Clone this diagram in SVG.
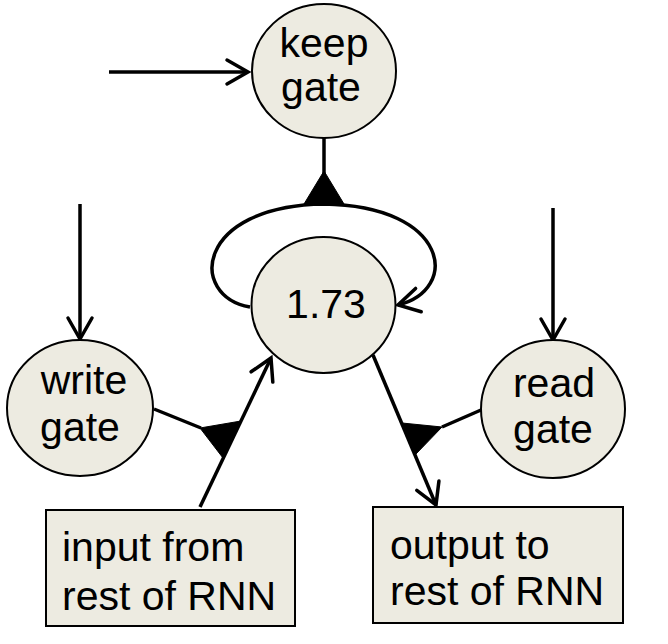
<svg xmlns="http://www.w3.org/2000/svg" width="668" height="644" viewBox="0 0 668 644">
<style>
.node{fill:#edebe1;stroke:#000;stroke-width:2}
.t{font-family:"Liberation Sans",Arial,sans-serif;font-size:41px;fill:#000}
.c{text-anchor:middle}
.ln{fill:none;stroke:#000;stroke-width:3.5}
.arr{marker-end:url(#open)}
.tri{fill:#000;stroke:#000;stroke-width:1;stroke-linejoin:round}
</style>
<defs>
<marker id="open" markerUnits="userSpaceOnUse" viewBox="-26 -16 30 32" refX="0" refY="0" markerWidth="30" markerHeight="32" orient="auto" overflow="visible">
<path d="M-21,-12 L0,0 L-21,12" fill="none" stroke="#000" stroke-width="3.5" stroke-linecap="round" stroke-linejoin="miter"/>
</marker>
</defs>
<rect width="668" height="644" fill="#fff"/>
<g id="connectors">
<path class="ln arr" d="M109,72 L248,72"/>
<path class="ln" d="M324,138 L324,175"/>
<polygon class="tri" points="324,171 304,204 344,204"/>
<path class="ln arr" d="M250,307 C188,296 195,206 324,204 C450,206 460,290 398,305"/>
<path class="ln arr" d="M80,204 L80,339"/>
<path class="ln arr" d="M553,208 L553,340"/>
<path class="ln" d="M154,409 L201,428"/>
<path class="ln arr" d="M200,507 L271,358"/>
<polygon class="tri" points="200,428 241,421 223,458"/>
<path class="ln arr" d="M373,355 L436,505"/>
<path class="ln" d="M481,410 L442,427"/>
<polygon class="tri" points="402,423 442,427 415,455"/>
</g>
<g id="keep-gate">
<ellipse class="node" cx="324" cy="71" rx="72" ry="67"/>
<text class="t c" x="324" y="57">keep</text>
<text class="t c" x="321" y="101">gate</text>
</g>
<g id="cell">
<ellipse class="node" cx="323.5" cy="305" rx="72" ry="68"/>
<text class="t c" x="326" y="318">1.73</text>
</g>
<g id="write-gate">
<ellipse class="node" cx="80" cy="408" rx="73" ry="68"/>
<text class="t c" x="84" y="394">write</text>
<text class="t c" x="80" y="441">gate</text>
</g>
<g id="read-gate">
<ellipse class="node" cx="553" cy="409" rx="72" ry="69"/>
<text class="t c" x="554" y="397">read</text>
<text class="t c" x="553" y="443">gate</text>
</g>
<g id="input-box">
<rect class="node" x="46" y="510" width="249" height="116"/>
<text class="t" x="62" y="561">input from</text>
<text class="t" x="62" y="610">rest of RNN</text>
</g>
<g id="output-box">
<rect class="node" x="373" y="507" width="250" height="116"/>
<text class="t" x="390" y="559">output to</text>
<text class="t" x="390" y="605">rest of RNN</text>
</g>
</svg>
